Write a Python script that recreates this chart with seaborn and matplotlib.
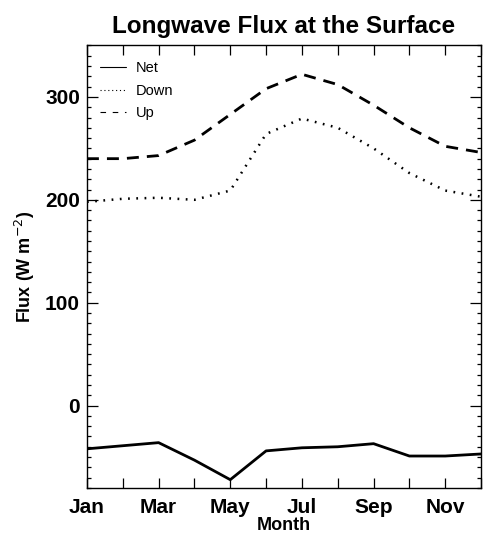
import matplotlib
matplotlib.use('Agg')
import matplotlib.pyplot as plt
from matplotlib.lines import Line2D
from matplotlib.ticker import MultipleLocator
import seaborn as sns

# monthly values
months = [1, 2, 3, 4, 5, 6, 7, 8, 9, 10, 11, 12]
month_labels = ['Jan', '', 'Mar', '', 'May', '', 'Jul', '', 'Sep', '', 'Nov', '']
net = [-42, -39, -36, -53, -72, -44, -41, -40, -37, -49, -49, -47]
down = [198, 201, 202, 200, 209, 264, 279, 270, 250, 226, 209, 203]
up = [240, 240, 243, 258, 283, 308, 322, 312, 292, 270, 252, 246]

sns.set_theme(style="ticks")
plt.rcParams['font.family'] = ['Liberation Sans', 'DejaVu Sans']
plt.rcParams['text.color'] = 'black'
plt.rcParams['axes.labelcolor'] = 'black'
plt.rcParams['xtick.color'] = 'black'
plt.rcParams['ytick.color'] = 'black'

fig = plt.figure(figsize=(4.83, 5.35), dpi=100)
ax = fig.add_axes([0.180, 0.088, 0.816, 0.827])

sns.lineplot(x=months, y=net, ax=ax, color='black', lw=2.0)
sns.lineplot(x=months, y=down, ax=ax, color='black', lw=1.8,
             linestyle=(0, (0.7, 2.6)))
sns.lineplot(x=months, y=up, ax=ax, color='black', lw=2.0,
             linestyle=(0, (4.3, 2.9)))

ax.set_xlim(1, 11.75)
ax.set_ylim(-80, 350)
ax.set_xticks(months)
ax.set_xticklabels(month_labels, fontsize=15, fontweight='bold')
ax.yaxis.set_major_locator(MultipleLocator(100))
ax.yaxis.set_minor_locator(MultipleLocator(10))
for lab in ax.get_yticklabels():
    lab.set_fontsize(15)
    lab.set_fontweight('bold')

ax.tick_params(axis='both', which='both', direction='in', top=True, right=True,
               color='black', width=0.9)
ax.tick_params(axis='x', which='major', length=7, pad=7)
ax.tick_params(axis='y', which='major', length=8, pad=5)
ax.tick_params(axis='y', which='minor', length=3)
for sp in ax.spines.values():
    sp.set_linewidth(1.0)
    sp.set_color('black')

ax.set_title('Longwave Flux at the Surface', fontsize=17.5, fontweight='bold', pad=9)
ax.set_xlabel('Month', fontsize=13, fontweight='bold', labelpad=0)
ax.set_ylabel('Flux (W m$^{-2}$)', fontsize=13, fontweight='bold', labelpad=6)

handles = [Line2D([], [], color='black', lw=0.8),
           Line2D([], [], color='black', lw=0.8, linestyle=(0, (1, 2.5))),
           Line2D([], [], color='black', lw=0.8, linestyle=(0, (5, 6)))]
ax.legend(handles, ['Net', 'Down', 'Up'], loc='upper left', frameon=False,
          fontsize=10.5, handlelength=1.8, handletextpad=0.7, labelspacing=0.6,
          borderaxespad=0.2, bbox_to_anchor=(0.01, 0.985))

fig.savefig('out.png', dpi=100)
